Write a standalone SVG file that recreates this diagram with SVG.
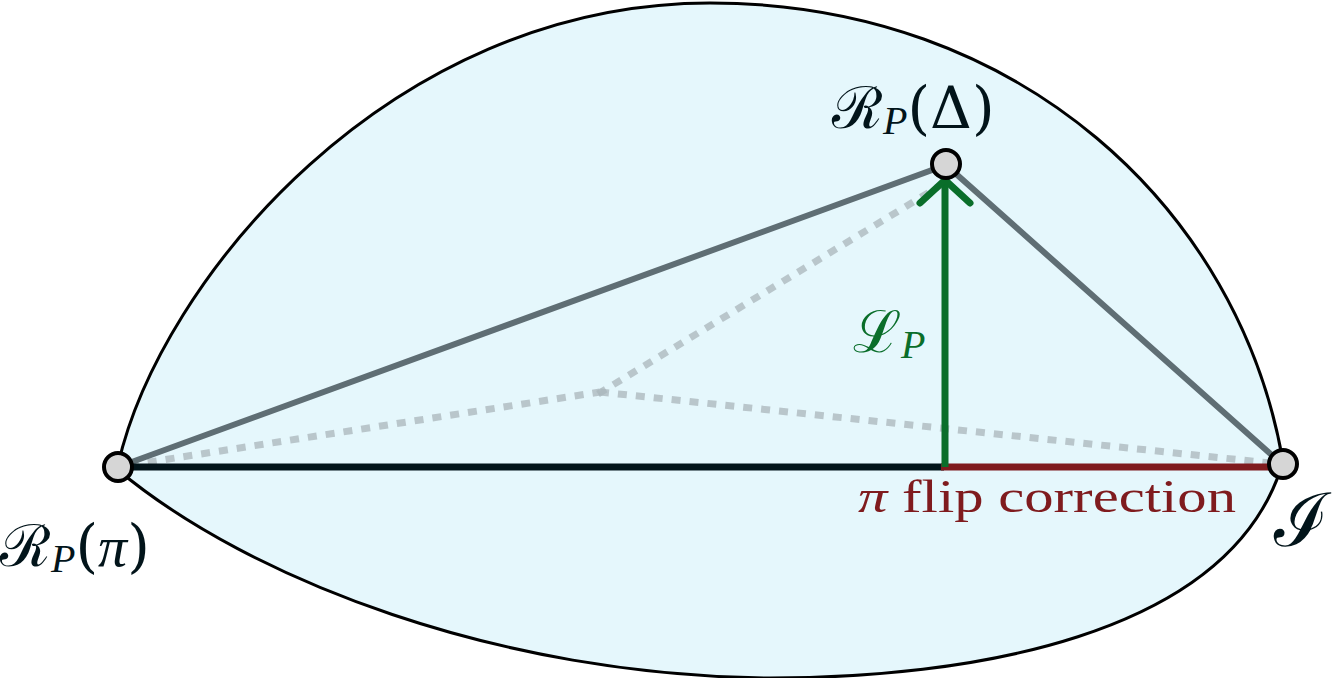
<svg xmlns="http://www.w3.org/2000/svg" width="1334" height="678" viewBox="0 0 1334 678">
<style>
.node{fill:#d6d6d6;stroke:#000;stroke-width:4}
.math{font-family:"DejaVu Serif","Liberation Serif",serif;font-size:58px;fill:#02141a}
.sub{font-size:40px;font-style:italic;font-family:"Liberation Serif",serif}
.dot{stroke:#a9b6bb;stroke-opacity:0.75;stroke-width:7;stroke-dasharray:9 9;fill:none}
.edge{stroke:#5f6e74;stroke-width:6;fill:none}
</style>
<g id="region">
<path d="M118,465 C 160,280 390,3 710,3 C 1020,3 1240,210 1283,462 C 1230,640 960,678 770,678 C 500,676 250,580 118,470 Z" fill="#e5f7fc" stroke="#000" stroke-width="3"/>
</g>
<g id="connectors">
<line class="dot" x1="130" y1="465" x2="600" y2="392"/>
<line class="dot" x1="598" y1="394" x2="946" y2="182"/>
<line class="dot" x1="600" y1="392" x2="1270" y2="463"/>
<path class="edge" d="M118,467 L946,165 L1283,465"/>
<line x1="118" y1="467" x2="944" y2="467" stroke="#02141a" stroke-width="7"/>
<line x1="941" y1="467" x2="1283" y2="467" stroke="#7f1b1e" stroke-width="7"/>
<line x1="945" y1="467" x2="945" y2="182" stroke="#0a6e2a" stroke-width="7"/>
<path d="M920,203 L945,180 L970,203" fill="none" stroke="#0a6e2a" stroke-width="7" stroke-linecap="round"/>
</g>
<g id="node-pi">
<circle class="node" cx="118" cy="467" r="14"/>
<text class="math" x="0" y="566">ℛ<tspan class="sub" dy="6">P</tspan><tspan dy="-6">(</tspan><tspan font-family="Liberation Serif,serif" font-style="italic">π</tspan><tspan>)</tspan></text>
</g>
<g id="node-delta">
<circle class="node" cx="946" cy="164" r="14"/>
<text class="math" x="832" y="128">ℛ<tspan class="sub" dy="6">P</tspan><tspan dy="-6">(Δ)</tspan></text>
</g>
<g id="node-identity">
<circle class="node" cx="1283" cy="464" r="14"/>
<text class="math" x="1274" y="546" style="font-size:74px">ℐ</text>
</g>
<g id="labels">
<text class="math" x="853" y="352" style="fill:#0a6e2a">ℒ<tspan class="sub" dy="6">P</tspan></text>
<text x="858" y="512" font-family="Liberation Serif,serif" font-size="47" fill="#7f1b1e" textLength="378" lengthAdjust="spacingAndGlyphs"><tspan font-style="italic">π</tspan> flip correction</text>
</g>
</svg>
